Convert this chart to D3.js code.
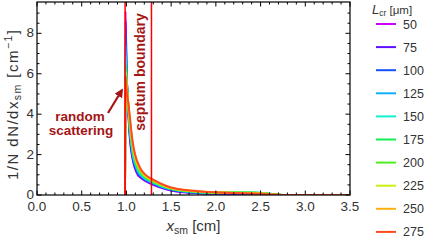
<!DOCTYPE html>
<html>
<head>
<meta charset="utf-8">
<script src="https://cdn.jsdelivr.net/npm/d3@7"></script>
<style>
  body { margin: 0; background: #fff; }
  text { font-family: "Liberation Sans", Arial, sans-serif; }
</style>
</head>
<body>
<div id="chart"></div>
<script>
// sample positions along x_sm [cm]
const xs = [0.984, 0.99, 1.0, 1.02, 1.04, 1.06, 1.08, 1.1, 1.13, 1.16, 1.2, 1.25, 1.3, 1.4, 1.5, 1.6, 1.8, 2.0, 2.2, 2.4, 2.55, 2.65, 2.75, 3.5];

// 1/N dN/dx_sm for each L_cr
const lcr = [50, 75, 100, 125, 150, 175, 200, 225, 250, 275];
const L50  = [0, 9.1, 6.5, 4.2, 2.7, 2.0, 1.55, 1.25, 0.97, 0.85, 0.72, 0.6, 0.5, 0.34, 0.22, 0.15, 0.09, 0.06, 0.06, 0.06, 0.04, 0.01, 0, 0];
const L75  = [0, 8.6, 6.4, 4.3, 2.85, 2.1, 1.63, 1.32, 1.02, 0.88, 0.75, 0.63, 0.53, 0.36, 0.24, 0.17, 0.1, 0.07, 0.07, 0.07, 0.05, 0.015, 0, 0];
const L100 = [0, 8.0, 6.3, 4.35, 2.98, 2.2, 1.7, 1.4, 1.08, 0.92, 0.78, 0.66, 0.56, 0.38, 0.26, 0.19, 0.11, 0.08, 0.08, 0.08, 0.06, 0.02, 0, 0];
const L125 = [0, 7.4, 6.1, 4.4, 3.1, 2.3, 1.78, 1.48, 1.15, 0.97, 0.82, 0.69, 0.59, 0.4, 0.28, 0.2, 0.12, 0.1, 0.1, 0.1, 0.08, 0.03, 0, 0];
const L150 = [0, 6.9, 5.95, 4.45, 3.22, 2.42, 1.88, 1.56, 1.22, 1.02, 0.86, 0.72, 0.62, 0.42, 0.3, 0.22, 0.14, 0.11, 0.12, 0.12, 0.09, 0.03, 0, 0];
const L175 = [0, 6.5, 5.8, 4.5, 3.34, 2.54, 1.98, 1.64, 1.29, 1.08, 0.9, 0.76, 0.65, 0.45, 0.31, 0.23, 0.15, 0.12, 0.12, 0.12, 0.09, 0.03, 0, 0];
const L200 = [0, 6.3, 5.65, 4.52, 3.45, 2.64, 2.08, 1.72, 1.36, 1.14, 0.94, 0.79, 0.68, 0.47, 0.32, 0.24, 0.16, 0.12, 0.12, 0.11, 0.08, 0.03, 0, 0];
const L225 = [0, 6.1, 5.5, 4.55, 3.56, 2.74, 2.18, 1.8, 1.43, 1.19, 0.98, 0.82, 0.7, 0.49, 0.34, 0.26, 0.17, 0.12, 0.11, 0.1, 0.07, 0.02, 0, 0];
const L250 = [0, 6.0, 5.4, 4.58, 3.68, 2.85, 2.27, 1.88, 1.5, 1.24, 1.02, 0.85, 0.73, 0.51, 0.35, 0.27, 0.18, 0.13, 0.1, 0.09, 0.06, 0.02, 0, 0];
const L275 = [0, 5.9, 5.3, 4.6, 3.8, 2.95, 2.36, 1.96, 1.56, 1.29, 1.06, 0.88, 0.76, 0.53, 0.37, 0.28, 0.19, 0.13, 0.1, 0.08, 0.05, 0.02, 0, 0];
const series = [L50, L75, L100, L125, L150, L175, L200, L225, L250, L275];
const colors = ["#cc00ff", "#6010ff", "#1450ff", "#10b0ff", "#10f0d0", "#10f050", "#50f020", "#c8f010", "#ffb010", "#ff4a20"];

// red marker lines
const markers = [0.985, 1.28];

const xTicks = [0, 0.5, 1, 1.5, 2, 2.5, 3, 3.5];
const yTicks = [0, 2, 4, 6, 8];

const W = 425, H = 242;
const margin = {top: 2, right: 75, bottom: 47, left: 37};
const width = W - margin.left - margin.right,
    height = H - margin.top - margin.bottom;

const svg = d3.select("#chart").append("svg")
    .attr("width", W).attr("height", H);
const defs = svg.append("defs");
const g = svg.append("g")
    .attr("transform", `translate(${margin.left},${margin.top})`);

const x = d3.scaleLinear().domain([0, 3.5]).range([0, width]);
const y = d3.scaleLinear().domain([0, 9.55]).range([height, 0]);

// clip for curves
defs.append("clipPath").attr("id", "clip")
    .append("rect").attr("width", width).attr("height", height);

const line = d3.line()
    .x((d, i) => x(xs[i]))
    .y(d => y(d))
    .curve(d3.curveMonotoneX);

g.append("g").attr("clip-path", "url(#clip)")
    .selectAll("path")
    .data(series)
    .enter().append("path")
    .attr("d", line)
    .attr("fill", "none")
    .attr("stroke", (d, i) => colors[i])
    .attr("stroke-width", 2)
    .attr("stroke-linejoin", "round");

// vertical red lines
g.selectAll(".marker")
    .data(markers)
    .enter().append("line")
    .attr("x1", d => x(d)).attr("x2", d => x(d))
    .attr("y1", 0).attr("y2", height)
    .attr("stroke", "#ff0000")
    .attr("stroke-width", 1.5);

// ticks on all four sides, pointing inward
const xMinor = d3.range(0, 3.5001, 0.1);
const yMinor = d3.range(0, 9.5, 0.5);
const tickG = g.append("g").attr("stroke", "#000").attr("stroke-width", 1);
function isMajor(v, step) { return Math.abs(v / step - Math.round(v / step)) < 1e-6; }
xMinor.forEach(v => {
    const len = isMajor(v, 0.5) ? 4.5 : 2.5;
    tickG.append("line").attr("x1", x(v)).attr("x2", x(v)).attr("y1", height).attr("y2", height - len);
    tickG.append("line").attr("x1", x(v)).attr("x2", x(v)).attr("y1", 0).attr("y2", len);
});
yMinor.forEach(v => {
    const len = isMajor(v, 2) ? 4.5 : 2.5;
    tickG.append("line").attr("x1", 0).attr("x2", len).attr("y1", y(v)).attr("y2", y(v));
    tickG.append("line").attr("x1", width).attr("x2", width - len).attr("y1", y(v)).attr("y2", y(v));
});

// frame
g.append("rect")
    .attr("width", width).attr("height", height)
    .attr("fill", "none").attr("stroke", "#000").attr("stroke-width", 1.2);

// tick labels
g.selectAll(".xl").data(xTicks).enter().append("text")
    .attr("x", d => x(d)).attr("y", height + 16)
    .attr("text-anchor", "middle")
    .attr("font-size", 13.5).attr("fill", "#333")
    .text(d => d.toFixed(1));
g.selectAll(".yl").data(yTicks).enter().append("text")
    .attr("x", -3).attr("y", d => y(d) + 4)
    .attr("text-anchor", "end")
    .attr("font-size", 13.5).attr("fill", "#333")
    .text(d => d);

// axis titles
const xt = svg.append("text")
    .attr("x", margin.left + width / 2).attr("y", 231)
    .attr("text-anchor", "middle").attr("font-size", 15).attr("fill", "#333");
xt.append("tspan").attr("font-style", "italic").text("x");
xt.append("tspan").attr("font-size", 10.5).attr("dy", 3).text("sm");
xt.append("tspan").attr("dy", -3).text(" [cm]");

const yt = svg.append("text")
    .attr("transform", "translate(18,105) rotate(-90)")
    .attr("text-anchor", "middle").attr("font-size", 15).attr("fill", "#333")
    .attr("textLength", 150).attr("lengthAdjust", "spacing");
yt.append("tspan").text("1/N dN/dx");
yt.append("tspan").attr("font-size", 10.5).attr("dy", 3).text("sm");
yt.append("tspan").attr("dy", -3).text(" [cm");
yt.append("tspan").attr("font-size", 10.5).attr("dy", -6).text("−1");
yt.append("tspan").attr("dy", 6).text("]");

// legend
const lx = 376;
const lt = svg.append("text").attr("x", 372).attr("y", 14)
    .attr("font-size", 11.5).attr("fill", "#333");
lt.append("tspan").attr("font-style", "italic").attr("font-size", 13).text("L");
lt.append("tspan").attr("font-size", 8.5).attr("dy", 2).text("cr");
lt.append("tspan").attr("dy", -2).text(" [μm]");

const leg = svg.selectAll(".leg").data(lcr).enter().append("g")
    .attr("transform", (d, i) => `translate(${lx},${24 + i * 23.1})`);
leg.append("line").attr("x1", 0).attr("x2", 20)
    .attr("stroke", (d, i) => colors[i]).attr("stroke-width", 2);
leg.append("text").attr("x", 27).attr("y", 4.5)
    .attr("font-size", 12.5).attr("fill", "#333").text(d => d);

// annotations
const annoColor = "#a51515";
svg.append("text").attr("x", 80).attr("y", 121)
    .attr("text-anchor", "middle").attr("font-size", 13.5).attr("font-weight", "bold")
    .attr("fill", annoColor).text("random");
svg.append("text").attr("x", 81).attr("y", 135)
    .attr("text-anchor", "middle").attr("font-size", 13.5).attr("font-weight", "bold")
    .attr("fill", annoColor).text("scattering");
svg.append("text")
    .attr("transform", `translate(${margin.left + x(1.28) - 6},72) rotate(-90)`)
    .attr("text-anchor", "middle").attr("font-size", 14).attr("font-weight", "bold")
    .attr("fill", annoColor).text("septum boundary");

defs.append("marker").attr("id", "ah")
    .attr("viewBox", "0 0 10 10").attr("refX", 8).attr("refY", 5)
    .attr("markerWidth", 4).attr("markerHeight", 4).attr("orient", "auto")
    .append("path").attr("d", "M0,0 L10,5 L0,10 z").attr("fill", annoColor);
svg.append("line")
    .attr("x1", 108).attr("y1", 113).attr("x2", 122).attr("y2", 90)
    .attr("stroke", annoColor).attr("stroke-width", 2.2)
    .attr("marker-end", "url(#ah)");
</script>
</body>
</html>
